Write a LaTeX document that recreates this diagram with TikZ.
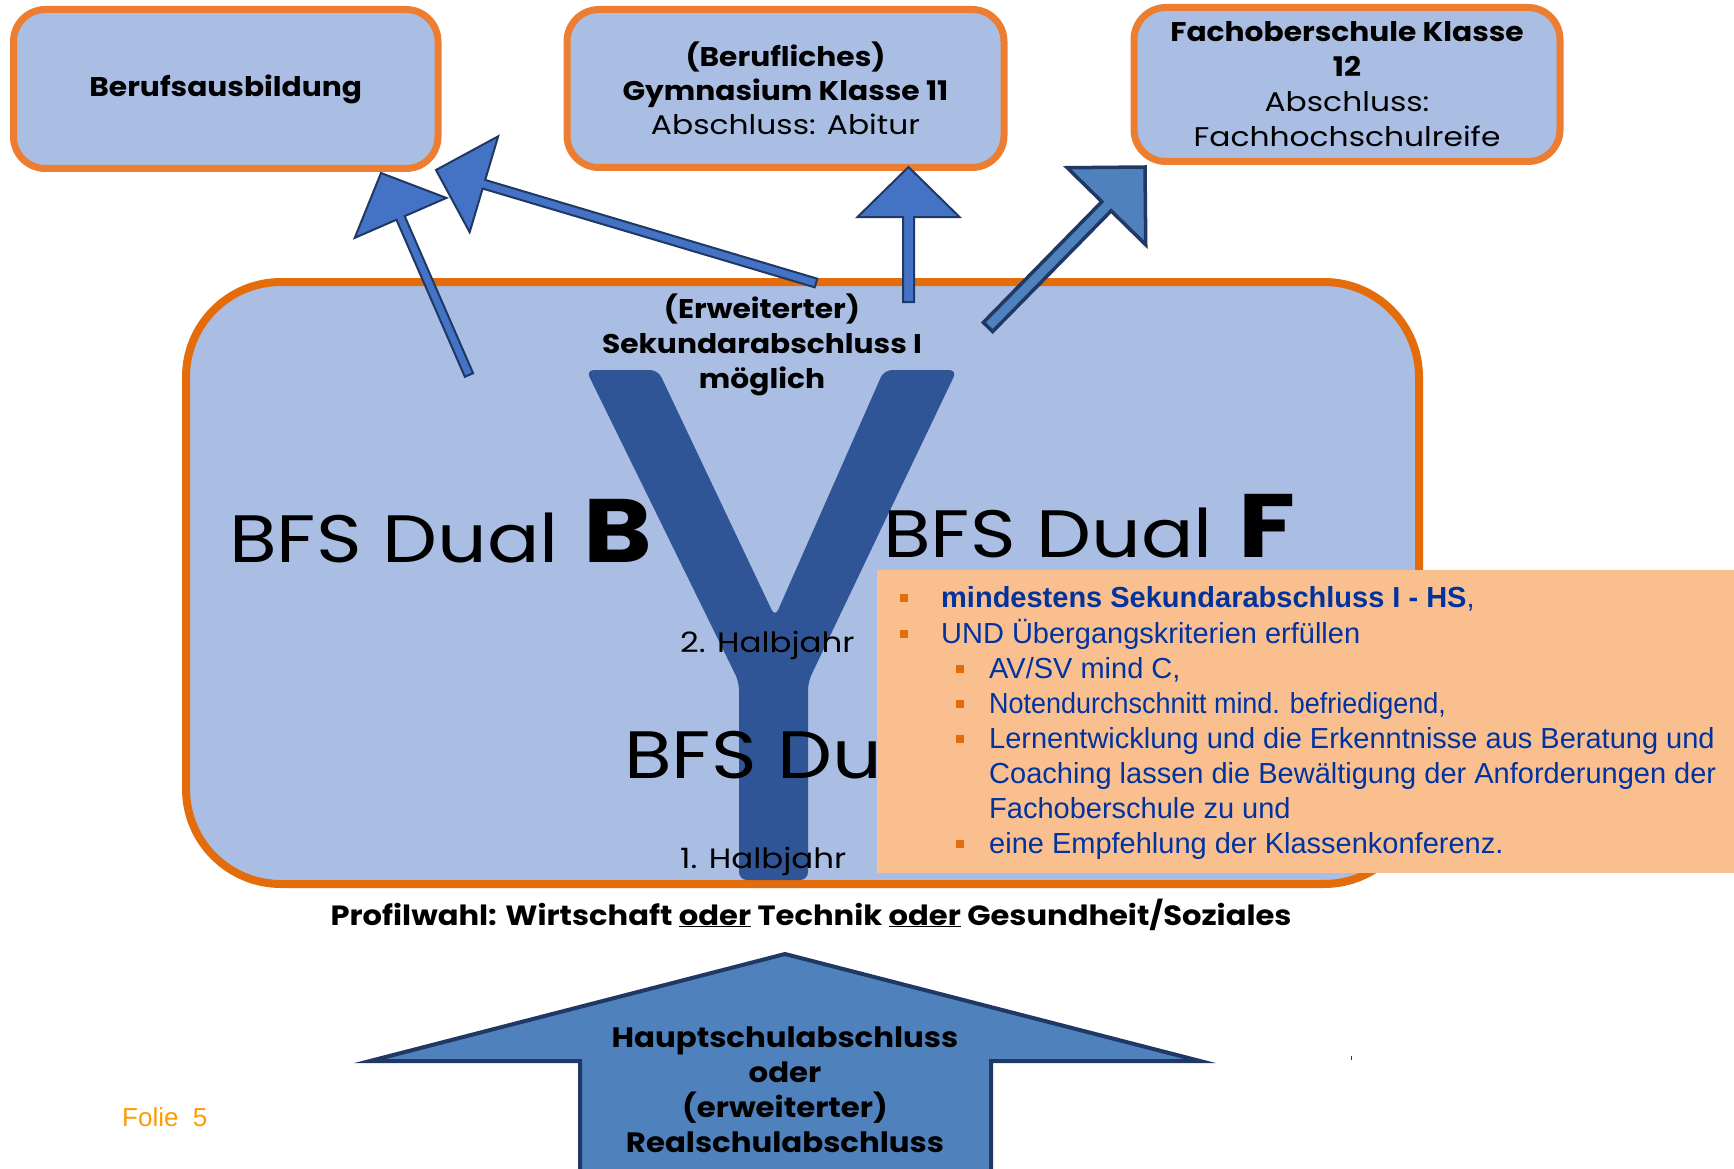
\documentclass[tikz,border=0pt]{standalone}
\usepackage{fontspec}
\setmainfont{Liberation Sans}
\newfontfamily\hand[FakeStretch=1.16]{Poppins}
\newfontfamily\handb[FakeStretch=1.10]{Poppins}
\usetikzlibrary{calc}
\definecolor{boxfill}{HTML}{AABEE4}
\definecolor{boxedge}{HTML}{ED7D31}
\definecolor{mainedge}{HTML}{E46C0A}
\definecolor{arrfill}{HTML}{4472C4}
\definecolor{arrfillb}{HTML}{4F81BD}
\definecolor{navy}{HTML}{1F3864}
\definecolor{ydark}{HTML}{2F5597}
\definecolor{peach}{HTML}{F9BF8F}
\definecolor{caltext}{HTML}{0033A0}
\definecolor{folieorange}{HTML}{FF9B00}
% #1 style, #2 start coordinate, #3 tip coordinate, #4 shaft half width, #5 head half width, #6 head length
\newcommand{\blockarrow}[6]{%
  \coordinate (#2h) at ($(#3)!#6!(#2)$);
  \draw[#1] ($(#2)!#4!90:(#3)$) -- ($(#2h)!#4!90:(#3)$) -- ($(#2h)!#5!90:(#3)$) -- (#3)
     -- ($(#2h)!#5!-90:(#3)$) -- ($(#2h)!#4!-90:(#3)$) -- ($(#2)!#4!-90:(#3)$) -- cycle;}
\newcommand{\hb}{\handb\bfseries}
\begin{document}
\begin{tikzpicture}[x=1pt,y=-1pt,
  tbox/.style={draw=boxedge, line width=7pt, fill=boxfill, rounded corners=32pt, inner sep=0pt,
    align=center, font=\hand\fontsize{27}{34}\selectfont, text=black},
  mainbox/.style={draw=mainedge, line width=8pt, fill=boxfill, rounded corners=95pt, inner sep=0pt},
  arrowa/.style={fill=arrfill, draw=navy, line width=2pt},
  arrowb/.style={fill=arrfillb, draw=navy, line width=3.5pt},
  bigtxt/.style={font=\hand\fontsize{67}{70}\selectfont, anchor=base west, inner sep=0pt},
  bigltr/.style={font=\hand\bfseries\fontsize{90}{90}\selectfont, anchor=base west, inner sep=0pt},
  halb/.style={font=\hand\fontsize{28}{30}\selectfont, anchor=base west, inner sep=0pt},
  cline/.style={font=\fontsize{29}{35}\selectfont, text=caltext, anchor=base west, inner sep=0pt},
  bul/.style={fill=mainedge, minimum size=8pt, inner sep=0pt},
]
\useasboundingbox (0,0) rectangle (1734,1169);
\clip (0,0) rectangle (1734,1169);
\fill[white] (0,0) rectangle (1734,1169);

% top boxes
\node[tbox, minimum width=424.5pt, minimum height=159pt] (box1) at (225.75,89) {\hb Berufsausbildung};
\node[tbox, minimum width=437pt, minimum height=158pt] (box2) at (785.5,88.5)
  {{\hb (Berufliches)}\\{\hb Gymnasium Klasse 11}\\Abschluss: Abitur};
\node[tbox, minimum width=426pt, minimum height=154pt, font=\hand\fontsize{27}{35}\selectfont] (box3) at (1347,84.5)
  {{\hb Fachoberschule Klasse}\\{\hb 12}\\Abschluss:\\Fachhochschulreife};

% main box
\node[mainbox, minimum width=1233pt, minimum height=602pt] (main) at (802.5,583) {};

% the Y
\fill[ydark, rounded corners=8pt] (586,370) -- (658,370) -- (775,617) -- (884,370) -- (957,370)
  -- (808,682) -- (808,880) -- (739,880) -- (739,682) -- cycle;

% texts in main box
\node[font=\hb\fontsize{27}{35}\selectfont, align=center, inner sep=0pt] (erw) at (762,345)
  {(Erweiterter)\\Sekundarabschluss I\\möglich};
\node[bigtxt] (bfsb) at (229,562) {BFS Dual};
\node[bigltr] (ltrb) at (583,562) {B};
\node[bigtxt] (bfsf) at (883,557) {BFS Dual};
\node[bigltr] (ltrf) at (1238,557) {F};
\node[bigtxt] (bfsbase) at (624,778) {BFS Dual};
\node[halb] (h2) at (680,652) {2. Halbjahr};
\node[halb] (h1) at (680,868) {1. Halbjahr};

% callout
\node[fill=peach, minimum width=870pt, minimum height=303pt, anchor=north west, inner sep=0pt] (callout) at (877,570) {};
\node[cline] (c1) at (941,607) {\textbf{mindestens Sekundarabschluss I - HS},};
\node[cline] (c2) at (941,643) {UND Übergangskriterien erfüllen};
\node[cline] (c3) at (989,678) {AV/SV mind C,};
\node[cline] (c4) at (989,713) {\scalebox{0.93}[1]{Notendurchschnitt mind. befriedigend,}};
\node[cline] (c5) at (989,748) {Lernentwicklung und die Erkenntnisse aus Beratung und};
\node[cline] (c6) at (989,783) {Coaching lassen die Bewältigung der Anforderungen der};
\node[cline] (c7) at (989,818) {Fachoberschule zu und};
\node[cline] (c8) at (989,853) {eine Empfehlung der Klassenkonferenz.};
\node[bul] (b1) at (904,598) {};
\node[bul] (b2) at (904,634) {};
\node[bul] (b3) at (960,669) {};
\node[bul] (b4) at (960,704) {};
\node[bul] (b5) at (960,739) {};
\node[bul] (b8) at (960,844) {};

% arrows
\coordinate (a1s) at (469,375); \coordinate (a1t) at (381,173);
\coordinate (a2s) at (816,283); \coordinate (a2t) at (436,170);
\coordinate (a3s) at (908.5,302); \coordinate (a3t) at (908.5,167);
\coordinate (a4s) at (988,327); \coordinate (a4t) at (1145,167);
\blockarrow{arrowa}{a1s}{a1t}{4.5pt}{50pt}{49pt}
\blockarrow{arrowa}{a2s}{a2t}{4.5pt}{50pt}{50pt}
\blockarrow{arrowa}{a3s}{a3t}{5.5pt}{51pt}{50pt}
\blockarrow{arrowb}{a4s}{a4t}{6.5pt}{55pt}{55pt}

% Profilwahl
\node[font=\hb\fontsize{27.8}{30}\selectfont, anchor=base, inner sep=0pt] (profil) at (811,925)
  {Profilwahl: Wirtschaft \underline{oder} Technik \underline{oder} Gesundheit/Soziales};

% bottom arrow
\draw[fill=arrfillb, draw=navy, line width=4pt] (785,954) -- (1200,1061) -- (991,1061) -- (991,1200)
  -- (580,1200) -- (580,1061) -- (370,1061) -- cycle;
\node[font=\hb\fontsize{28}{35}\selectfont, align=center, inner sep=0pt] (origin) at (785,1090)
  {Hauptschulabschluss\\oder\\(erweiterter)\\Realschulabschluss};
\fill[navy] (1350.5,1056) rectangle (1352,1060);

% footer
\node[font=\fontsize{26}{30}\selectfont, text=folieorange, anchor=base west, inner sep=0pt] (folie) at (122,1126) {Folie\ \ 5};
\end{tikzpicture}
\end{document}
